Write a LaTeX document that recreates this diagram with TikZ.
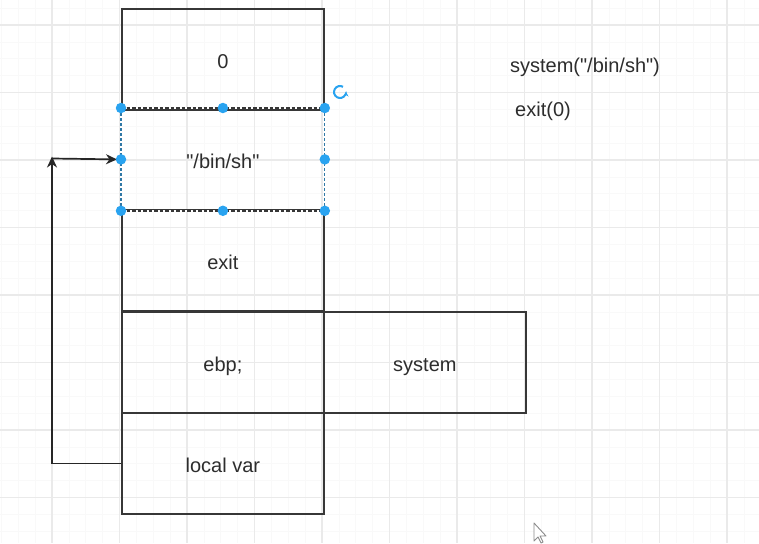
\documentclass[tikz,border=0pt]{standalone}
\usepackage{fontspec}
\setmainfont{Liberation Sans}[Ligatures=TeXOff]
\usetikzlibrary{arrows.meta}
\definecolor{gridmaj}{RGB}{234,234,234}
\definecolor{gridmin}{RGB}{249,249,249}
\definecolor{edge}{RGB}{55,55,55}
\definecolor{txt}{RGB}{45,45,45}
\definecolor{sel}{RGB}{41,163,240}
\tikzset{
  cell/.style={draw=edge, line width=1.8pt, minimum width=202pt, minimum height=101pt, inner sep=0pt, text=txt, font=\fontsize{20}{24}\selectfont, text height=21pt, text depth=2pt, anchor=north west},
  lbl/.style={text=txt, font=\fontsize{20}{24}\selectfont, inner sep=0pt},
  handle/.style={circle, fill=sel, inner sep=0pt, minimum size=10.5pt},
  conn/.style={draw=black!85, line width=1.7pt},
  tip/.style={-{Stealth[length=11pt,width=10pt,inset=3.5pt]}}
}
\begin{document}
\begin{tikzpicture}[x=1pt,y=-1pt]
\useasboundingbox (0,0) rectangle (759,543);
\fill[white] (0,0) rectangle (759,543);
% grid
\foreach \i in {0,...,45} {
  \draw[gridmin, line width=0.6pt] ({52-67.5+\i*16.875},0) -- ++(0,543);
  \draw[gridmin, line width=0.6pt] (0,{25+\i*16.875-16.875*4}) -- ++(759,0);
}
\foreach \i in {-1,...,11} {
  \draw[gridmaj, line width=1.2pt] ({52+\i*67.5},0) -- ++(0,543);
  \draw[gridmaj, line width=1.2pt] (0,{25+\i*67.5}) -- ++(759,0);
}
% stack cells
\node[cell] (zero) at (121,8) {0};
\node[cell, draw=none] (binsh) at (121,108) {"/bin/sh"};
\node[cell] (exit) at (121,209) {exit};
\node[cell] (ebp) at (121,311) {ebp;};
\node[cell] (sys) at (323,311) {system};
\node[cell] (local) at (121,412) {local var};
% selected cell outline
\draw[white, line width=2.2pt] ([xshift=1pt]binsh.north west) -- ([xshift=-1pt]binsh.north east);
\draw[white, line width=2.2pt] ([xshift=1pt]binsh.south west) -- ([xshift=-1pt]binsh.south east);
\draw[edge, line width=1.5pt, dash pattern=on 3.5pt off 2pt] (binsh.north west) -- (binsh.north east);
\draw[edge, line width=1.5pt, dash pattern=on 3.5pt off 2pt] (binsh.south west) -- (binsh.south east);
\draw[sel!60!edge, line width=1.1pt, dash pattern=on 3pt off 2pt] (binsh.north west) -- (binsh.south west);
\draw[sel!60!edge, line width=1.1pt, dash pattern=on 3pt off 2pt] (binsh.north east) -- (binsh.south east);
% connector
\coordinate (corner) at (52,158.5);
\draw[conn, tip] (local.west) -| ([yshift=2pt]corner);
\draw[conn, tip] (corner) -- ([xshift=-4pt]binsh.west);
% handles
\foreach \a in {north west,north,north east,west,east,south west,south,south east}
  \node[handle] at (binsh.\a) {};
% rotate icon
\draw[sel, line width=2pt, -{Stealth[length=4.5pt,width=5pt]}] (340,92) ++(60:6pt) arc[start angle=60, end angle=360, radius=6pt];
% side texts
\node[lbl] (t1) at (585,67) {system("/bin/sh")};
\node[lbl] (t2) at (543,111) {exit(0)};
% mouse cursor
\draw[black!45, line width=0.9pt, fill=white, line join=round]
  (534,523) -- (534,541) -- (538,537) -- (541,543) -- (543,542) -- (540,536) -- (546,536) -- cycle;
\end{tikzpicture}
\end{document}
